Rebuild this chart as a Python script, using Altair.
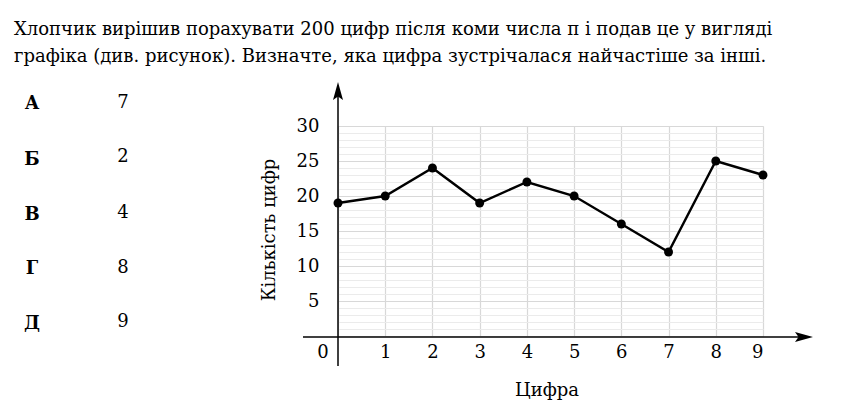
import altair as alt
import pandas as pd

digits = [0, 1, 2, 3, 4, 5, 6, 7, 8, 9]
counts = [19, 20, 24, 19, 22, 20, 16, 12, 25, 23]
x_ticks = [1, 2, 3, 4, 5, 6, 7, 8, 9]
y_ticks = [5, 10, 15, 20, 25, 30]
minor_y = list(range(0, 31))
option_letters = ["А", "Б", "В", "Г", "Д"]
option_values = ["7", "2", "4", "8", "9"]
question_lines = [
    "Хлопчик вирішив порахувати 200 цифр після коми числа π і подав це у вигляді",
    "графіка (див. рисунок). Визначте, яка цифра зустрічалася найчастіше за інші.",
]
x_title = "Цифра"
y_title = "Кількість цифр"

FONT = "DejaVu Serif"
FS = 18
W, H = 425, 210
OX, OY = 338, 126

df = pd.DataFrame({"digit": digits, "count": counts})
one = pd.DataFrame({"k": [0]})

xs = alt.Scale(domain=[0, 9], nice=False, zero=False)
ys = alt.Scale(domain=[0, 30], nice=False)

minor = alt.Chart(df).mark_point(opacity=0).encode(
    x=alt.X("digit:Q", scale=xs, axis=None),
    y=alt.Y("count:Q", scale=ys, axis=alt.Axis(values=minor_y, grid=True, gridColor="#ebebeb",
                                               gridWidth=1, labels=False, ticks=False, domain=False,
                                               title=None, orient="right")),
)

major = alt.Chart(df).mark_point(opacity=0).encode(
    x=alt.X("digit:Q", scale=xs,
            axis=alt.Axis(values=digits, grid=True, gridColor="#d8d8d8", gridWidth=1.2,
                          ticks=False, domain=False, title=None,
                          labelExpr="datum.value == 0 ? '' : datum.label",
                          labelFont=FONT, labelFontSize=FS, labelColor="black",
                          labelPadding=7)),
    y=alt.Y("count:Q", scale=ys,
            axis=alt.Axis(values=y_ticks, grid=True, gridColor="#d8d8d8", gridWidth=1.2,
                          ticks=False, domain=False, title=None,
                          labelFont=FONT, labelFontSize=FS, labelColor="black",
                          labelPadding=19, orient="left")),
)

line = alt.Chart(df).mark_line(color="black", strokeWidth=2.4).encode(
    x=alt.X("digit:Q", scale=xs, axis=None), y=alt.Y("count:Q", scale=ys, axis=None))
pts = alt.Chart(df).mark_circle(color="black", size=80, opacity=1).encode(
    x=alt.X("digit:Q", scale=xs, axis=None), y=alt.Y("count:Q", scale=ys, axis=None))

yaxis_line = alt.Chart(one).mark_rule(color="black", strokeWidth=1.5).encode(
    x=alt.value(0), y=alt.value(-32), y2=alt.value(240))
xaxis_line = alt.Chart(one).mark_rule(color="black", strokeWidth=1.5).encode(
    x=alt.value(-35), x2=alt.value(462), y=alt.value(211))
y_arrow = alt.Chart(one).mark_point(
    shape="M0,-1 L0.5,0.8 L0,0.45 L-0.5,0.8 Z", filled=True, color="black", size=400, opacity=1
).encode(x=alt.value(0), y=alt.value(-34))
x_arrow = alt.Chart(one).mark_point(
    shape="M1,0 L-0.8,0.5 L-0.45,0 L-0.8,-0.5 Z", filled=True, color="black", size=400, opacity=1
).encode(x=alt.value(465), y=alt.value(211))


def txt(s, x, y, size=FS, bold=False, align="center", angle=0):
    kw = dict(font=FONT, fontSize=size, color="black", align=align, baseline="middle")
    if bold:
        kw["fontWeight"] = "bold"
    if angle:
        kw["angle"] = angle
    return alt.Chart(one).mark_text(**kw).encode(x=alt.value(x), y=alt.value(y), text=alt.value(s))


texts = [
    txt(question_lines[0], -324, -96, align="left"),
    txt(question_lines[1], -324, -69, align="left"),
    txt("0", -15, 227),
    txt(x_title, 209, 265),
    txt(y_title, -68, 104, angle=270),
]
letter_y = [-22, 34, 89, 143, 198]
value_y = [-23, 31, 87, 142, 196]
for i in range(5):
    texts.append(txt(option_letters[i], -306, letter_y[i], bold=True))
    texts.append(txt(option_values[i], -215, value_y[i]))

chart = alt.layer(minor, major, line, pts, yaxis_line, xaxis_line, y_arrow, x_arrow, *texts).resolve_axis(
    x="independent", y="independent"
).properties(
    width=W, height=H,
    autosize=alt.AutoSizeParams(type="none"),
    padding={"left": OX, "top": OY, "right": 851 - OX - W, "bottom": 414 - OY - H},
).configure_view(stroke=None).configure(background="white")

chart.save("out.html", embed_options={"renderer": "svg", "actions": False})
